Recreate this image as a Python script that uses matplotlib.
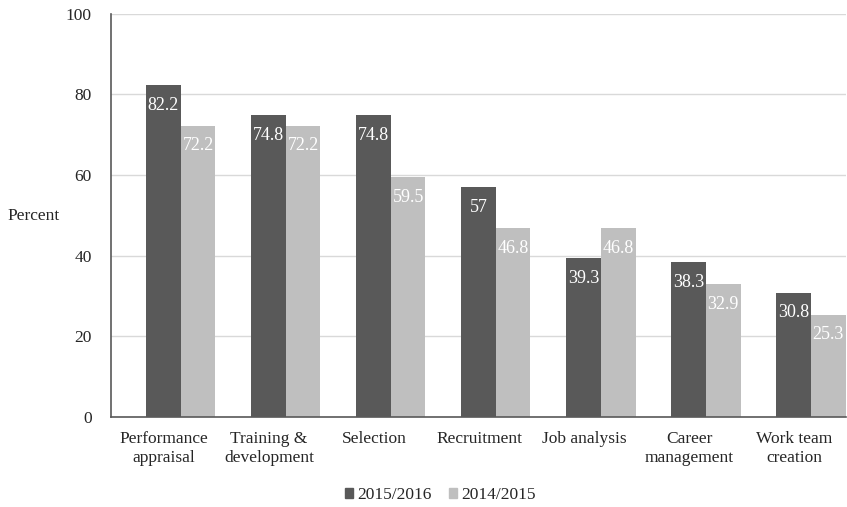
import matplotlib.pyplot as plt
import numpy as np
from matplotlib.patches import Patch

plt.rcParams['font.family'] = ['Liberation Serif', 'DejaVu Serif']

categories = ["Performance\nappraisal", "Training &\ndevelopment", "Selection",
              "Recruitment", "Job analysis", "Career\nmanagement", "Work team\ncreation"]
y2016 = [82.2, 74.8, 74.8, 57, 39.3, 38.3, 30.8]
y2015 = [72.2, 72.2, 59.5, 46.8, 46.8, 32.9, 25.3]
labels_2016 = ["82.2", "74.8", "74.8", "57", "39.3", "38.3", "30.8"]
labels_2015 = ["72.2", "72.2", "59.5", "46.8", "46.8", "32.9", "25.3"]

dark = "#595959"
light = "#bfbfbf"
text_col = "#262626"
width = 0.33

fig = plt.figure(figsize=(8.47, 5.07), dpi=100)
ax = fig.add_axes([0.131, 0.178, 0.868, 0.795])

x = np.arange(len(categories))
b1 = ax.bar(x - width / 2, y2016, width, color=dark, zorder=2)
b2 = ax.bar(x + width / 2, y2015, width, color=light, zorder=2)

for bars, labs in ((b1, labels_2016), (b2, labels_2015)):
    for rect, lab in zip(bars, labs):
        ax.text(rect.get_x() + rect.get_width() / 2, rect.get_height() - 5, lab,
                ha="center", va="center", color="white", fontsize=13, zorder=3)

ax.set_ylim(0, 100)
ax.set_yticks([0, 20, 40, 60, 80, 100])
ax.set_xlim(-0.664, 6.335)
# category labels sit a little left of the bar pairs
ax.set_xticks(x - 0.16)
ax.set_xticklabels(categories, fontsize=12.5, color=text_col, linespacing=1.25)
ax.tick_params(axis="y", labelsize=12.5, labelcolor=text_col, length=0, pad=14)
ax.tick_params(axis="x", length=0, pad=10)
ax.yaxis.grid(True, color="#d9d9d9", linewidth=1, zorder=0)
ax.set_axisbelow(True)

for side in ("top", "right"):
    ax.spines[side].set_visible(False)
for side in ("left", "bottom"):
    ax.spines[side].set_color("#595959")
    ax.spines[side].set_linewidth(1.2)

fig.text(0.009, (507 - 216) / 507, "Percent", fontsize=12.5, color=text_col,
         ha="left", va="center")

handles = [Patch(color=dark), Patch(color=light)]
fig.legend(handles, ["2015/2016", "2014/2015"], loc="center",
           bbox_to_anchor=(440 / 847, (507 - 495) / 507), ncol=2, frameon=False,
           fontsize=12.5, handlelength=0.5, handleheight=0.5, handletextpad=0.2,
           columnspacing=1.0, labelcolor=text_col)

fig.savefig("out.png", dpi=100)
